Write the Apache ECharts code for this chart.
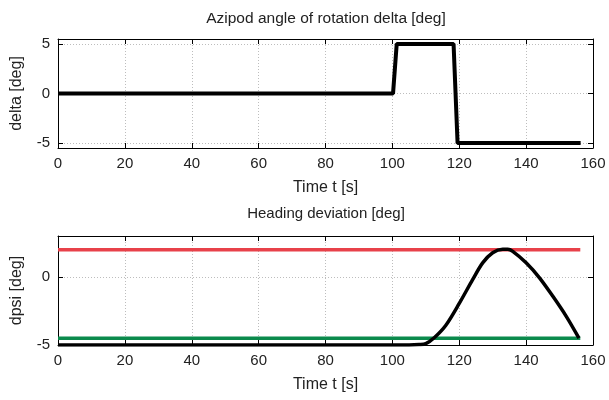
<!DOCTYPE html>
<html>
<head>
<meta charset="utf-8">
<script src="https://cdn.jsdelivr.net/npm/echarts@6/dist/echarts.min.js"></script>
<style>html,body{margin:0;padding:0;background:#fff}#c{width:609px;height:400px}</style>
</head>
<body>
<div id="c"></div>
<script>
// Top panel: azipod angle delta [deg]
var deltaTime = [0, 100.2, 101.3, 118.3, 119.5, 156.3];
var deltaVal  = [0, 0, 5, 5, -5, -5];
// Bottom panel: heading deviation dpsi [deg]
var dpsiTime = [0, 105, 108, 110, 112.6, 116, 120, 124, 127, 130, 133, 134.5, 136, 140, 144, 148, 152, 155.8];
var dpsiVal  = [-5, -5, -4.97, -4.9, -4.45, -3.55, -1.95, -0.2, 1.03, 1.77, 2.02, 2.02, 1.87, 1.03, -0.07, -1.43, -2.9, -4.5];
var upperLimit = 2;
var lowerLimit = -4.5;
var limitTime = [0, 156.2];
var topYTicks = [-5, 0, 5];
var botYTicks = [-5, 0];

var FONT = 'Liberation Sans, Arial, sans-serif';
function pairs(xs, ys) { return xs.map(function (x, i) { return [x, ys[i]]; }); }
function constLine(xs, v) { return xs.map(function (x) { return [x, v]; }); }

var grid = [
  { left: 58, right: 16, top: 39, height: 109, show: false },
  { left: 58, right: 16, top: 236, height: 109, show: false }
];
var splitStyle = { show: true, lineStyle: { color: '#bdbdbd', type: [1, 2], width: 1 } };
function tickStyle(extra) {
  return Object.assign({ show: true, inside: true, length: 5, lineStyle: { color: '#000', width: 1 } }, extra || {});
}
var axLine = { show: true, onZero: false, lineStyle: { color: '#000', width: 1 } };

function xAxes(gi) {
  return [
    { type: 'value', gridIndex: gi, min: 0, max: 160, interval: 20, position: 'bottom',
      name: 'Time t [s]', nameLocation: 'middle', nameGap: 32,
      nameTextStyle: { fontFamily: FONT, fontSize: 16, color: '#222' },
      axisLine: axLine, axisTick: tickStyle(), splitLine: splitStyle,
      axisLabel: { fontFamily: FONT, fontSize: 15, color: '#222', margin: 8 } },
    { type: 'value', gridIndex: gi, min: 0, max: 160, interval: 20, position: 'top',
      axisLine: axLine, axisTick: tickStyle(), splitLine: { show: false },
      axisLabel: { show: false } }
  ];
}
function yAxes(gi, base, nm, ticks) {
  var cv = { customValues: ticks };
  return [
    Object.assign({ type: 'value', gridIndex: gi, position: 'left',
      name: nm, nameLocation: 'middle', nameGap: 33, nameRotate: 90,
      nameTextStyle: { fontFamily: FONT, fontSize: 16, color: '#222' },
      axisLine: axLine, axisTick: tickStyle(cv), splitLine: splitStyle,
      axisLabel: Object.assign({ fontFamily: FONT, fontSize: 15, color: '#222', margin: 8 }, cv) }, base),
    Object.assign({ type: 'value', gridIndex: gi, position: 'right',
      axisLine: axLine, axisTick: tickStyle(cv),
      splitLine: { show: false }, axisLabel: { show: false } }, base)
  ];
}

var option = {
  animation: false,
  backgroundColor: '#fff',
  title: [
    { text: 'Azipod angle of rotation delta [deg]', left: 321, top: 6, textAlign: 'center',
      textStyle: { fontFamily: FONT, fontSize: 15.5, fontWeight: 'normal', color: '#222' } },
    { text: 'Heading deviation [deg]', left: 321, top: 201, textAlign: 'center',
      textStyle: { fontFamily: FONT, fontSize: 15, fontWeight: 'normal', color: '#222' } }
  ],
  grid: grid,
  xAxis: xAxes(0).concat(xAxes(1)),
  yAxis: yAxes(0, { min: -5.5, max: 5.5 }, 'delta [deg]', topYTicks)
    .concat(yAxes(1, { min: -5, max: 3 }, 'dpsi [deg]', botYTicks)),
  series: [
    { type: 'line', xAxisIndex: 0, yAxisIndex: 0, data: pairs(deltaTime, deltaVal), showSymbol: false,
      lineStyle: { color: '#000', width: 4 }, z: 5 },
    { type: 'line', xAxisIndex: 2, yAxisIndex: 2, data: constLine(limitTime, upperLimit), showSymbol: false,
      lineStyle: { color: '#e8414a', width: 3.5 }, z: 3 },
    { type: 'line', xAxisIndex: 2, yAxisIndex: 2, data: constLine(limitTime, lowerLimit), showSymbol: false,
      lineStyle: { color: '#0b8a4c', width: 3.5 }, z: 3 },
    { type: 'line', xAxisIndex: 2, yAxisIndex: 2, data: pairs(dpsiTime, dpsiVal), showSymbol: false,
      smooth: 0.3, lineStyle: { color: '#000', width: 3.5 }, z: 4 }
  ]
};
var chart = echarts.init(document.getElementById('c'), null, { renderer: 'canvas' });
chart.setOption(option);
</script>
</body>
</html>
